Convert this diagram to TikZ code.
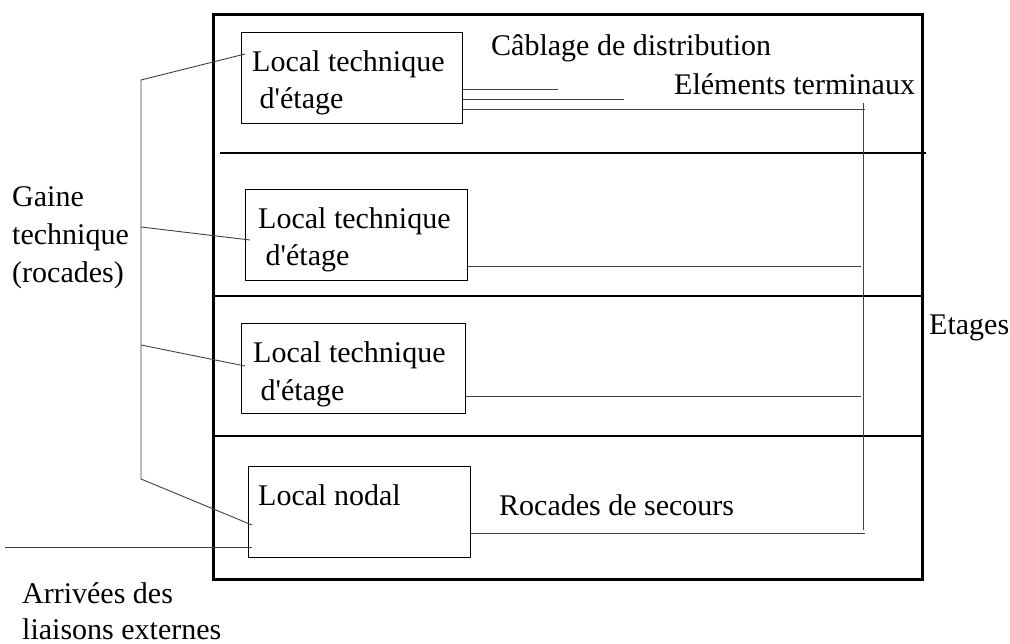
\documentclass[tikz,border=0pt]{standalone}
\usepackage{fontspec}
\setmainfont{Liberation Serif}
\begin{document}
\begin{tikzpicture}[x=1pt,y=-1pt,
  box/.style={draw, line width=1.4pt, anchor=north west, inner sep=0pt},
  lbl/.style={font=\fontsize{30}{36}\selectfont, inner sep=0pt, anchor=base west},
  thin/.style={line width=0.9pt, black!75},
  floor/.style={line width=2.4pt}]
\useasboundingbox (0,0) rectangle (1010,644);
% building
\node[draw, line width=2.8pt, anchor=north west, inner sep=0pt, minimum width=709pt, minimum height=565pt] (bat) at (212,13) {};
\coordinate (f1a) at (220,153); \coordinate (f1b) at (926,153);
\coordinate (f2a) at (212,296); \coordinate (f2b) at (921,296);
\coordinate (f3a) at (212,436); \coordinate (f3b) at (922,436);
\draw[floor] (f1a) -- (f1b);
\draw[floor] (f2a) -- (f2b);
\draw[floor] (f3a) -- (f3b);
% rooms
\node[box, minimum width=221pt, minimum height=91pt] (b1) at (241,32) {};
\node[box, minimum width=222pt, minimum height=91pt] (b2) at (245,189) {};
\node[box, minimum width=224pt, minimum height=90pt] (b3) at (241,323) {};
\node[box, minimum width=222pt, minimum height=91pt] (b4) at (248,466) {};
\node[lbl] (t1a) at (252,72) {Local technique};
\node[lbl] (t1b) at (252,109) {\ d\textquotesingle étage};
\node[lbl] (t2a) at (258,229) {Local technique};
\node[lbl] (t2b) at (258,266) {\ d\textquotesingle étage};
\node[lbl] (t3a) at (253,363) {Local technique};
\node[lbl] (t3b) at (253,400) {\ d\textquotesingle étage};
\node[lbl] (t4) at (258,505) {Local nodal};
% other labels
\node[lbl] (cab) at (491,56) {Câblage de distribution};
\node[lbl] (elt) at (674,95) {Eléments terminaux};
\node[lbl] (eta) at (929,335) {Etages};
\node[lbl] (roc) at (499,515) {Rocades de secours};
\node[lbl] (g1) at (12,207) {Gaine};
\node[lbl] (g2) at (12,245) {technique};
\node[lbl] (g3) at (12,283) {(rocades)};
\node[lbl] (a1) at (22,603) {Arrivées des};
\node[lbl] (a2) at (22,639) {liaisons externes};
% distribution cables
\coordinate (c1) at (558,89);
\coordinate (c2) at (624,99);
\coordinate (c3) at (865,109);
\coordinate (vt) at (863,103);
\coordinate (vb) at (863,530);
\coordinate (r2) at (861,266);
\coordinate (r3) at (861,396);
\coordinate (r4) at (865,533);
\draw[thin] (b1.east |- c1) -- (c1);
\draw[thin] (b1.east |- c2) -- (c2);
\draw[thin] (b1.east |- c3) -- (c3);
\draw[thin] (vt) -- (vb);
\draw[thin] (b2.east |- r2) -- (r2);
\draw[thin] (b3.east |- r3) -- (r3);
\draw[thin] (b4.east |- r4) -- (r4);
% gaine technique
\coordinate (gt) at (141,80);
\coordinate (gb) at (141,479);
\coordinate (gm2) at (141,227);
\coordinate (gm3) at (141,345);
\coordinate (e1) at (245,54);
\coordinate (e2) at (250,240);
\coordinate (e3) at (245,366);
\coordinate (e4) at (252,525);
\draw[thin] (e1) -- (gt) -- (gb) -- (e4);
\draw[thin] (gm2) -- (e2);
\draw[thin] (gm3) -- (e3);
% external links
\coordinate (ext) at (5,547);
\coordinate (exe) at (252,547);
\draw[thin] (ext) -- (exe);
\end{tikzpicture}
\end{document}
